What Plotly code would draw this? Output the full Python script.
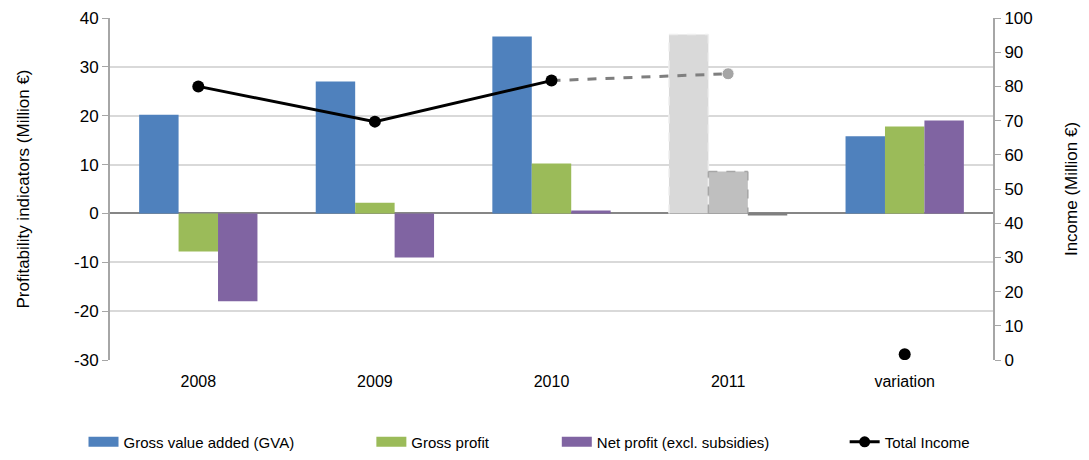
import plotly.graph_objects as go

categories = ["2008", "2009", "2010", "2011", "variation"]
gva = [20.2, 27.0, 36.2, 36.6, 15.8]
gross_profit = [-7.8, 2.2, 10.2, 8.6, 17.8]
net_profit = [-18.0, -9.0, 0.6, -0.4, 19.0]
income_solid = [80.0, 69.7, 81.7, None, None]
income_dashed = [None, None, 81.7, 83.7, None]
income_variation = [None, None, None, None, 1.7]

left_tickvals = [-30, -20, -10, 0, 10, 20, 30, 40]
left_ticktext = ["-30", "-20", "-10", "0", "10", "20", "30", "40"]
right_tickvals = [0, 10, 20, 30, 40, 50, 60, 70, 80, 90, 100]
right_ticktext = ["0", "10", "20", "30", "40", "50", "60", "70", "80", "90", "100"]

BLUE = "#4f81bd"
GREEN = "#9bbb59"
PURPLE = "#8064a2"
FONT = "Liberation Sans"

def colors(base, est):
    return [base] * 3 + [est] + [base]

fig = go.Figure()
fig.add_bar(x=categories, y=gva, name="Gross value added (GVA)",
            marker=dict(color=colors(BLUE, "#d9d9d9"), line=dict(width=0)), showlegend=False)
fig.add_bar(x=categories, y=gross_profit, name="Gross profit",
            marker=dict(color=colors(GREEN, "#bfbfbf"), line=dict(width=0)), showlegend=False)
fig.add_bar(x=categories, y=net_profit, name="Net profit (excl. subsidies)",
            marker=dict(color=colors(PURPLE, "#7f7f7f"), line=dict(width=0)), showlegend=False)

fig.add_scatter(x=categories, y=income_dashed, yaxis="y2", mode="lines+markers",
                line=dict(color="#7f7f7f", width=3, dash="dash"),
                marker=dict(size=[0, 0, 0, 12, 0], color="#7f7f7f"), showlegend=False)
fig.add_scatter(x=categories, y=income_solid, yaxis="y2", mode="lines+markers",
                line=dict(color="black", width=3), marker=dict(size=12, color="black"),
                showlegend=False, connectgaps=False)
fig.add_scatter(x=categories, y=income_variation, yaxis="y2", mode="markers",
                marker=dict(size=12, color="black"), showlegend=False)

# legend entries
leg_specs = [("Gross value added (GVA)", BLUE, "legend"),
             ("Gross profit", GREEN, "legend2"),
             ("Net profit (excl. subsidies)", PURPLE, "legend3")]
for name, col, lg in leg_specs:
    fig.add_scatter(x=[None], y=[None], mode="lines", name=name,
                    line=dict(color=col, width=13), legend=lg)
fig.add_scatter(x=[None], y=[None], mode="lines+markers", name="Total Income",
                line=dict(color="black", width=3), marker=dict(size=11, color="black"),
                legend="legend4", yaxis="y2")

# dashed outlines (sides and top) of the estimated 2011 bars
g = 0.33
w = (1 - g) / 3
idx = categories.index("2011")
for left, top, col in [(idx - 1.5 * w, gva[idx], "#efefef"),
                       (idx - 0.5 * w, gross_profit[idx], "#a6a6a6")]:
    right = left + w
    for x0, y0, x1, y1 in [(left, 0, left, top), (left, top, right, top), (right, top, right, 0)]:
        fig.add_shape(type="line", xref="x", yref="y", x0=x0, y0=y0, x1=x1, y1=y1,
                      line=dict(color=col, width=1.5, dash="dash"))

leg_common = dict(orientation="h", yanchor="middle", y=-0.24, xanchor="left",
                  font=dict(family=FONT, size=15, color="black"),
                  bgcolor="rgba(0,0,0,0)", itemwidth=30)
fig.update_layout(
    legend=dict(x=-0.03, **leg_common),
    legend2=dict(x=0.296, **leg_common),
    legend3=dict(x=0.506, **leg_common),
    legend4=dict(x=0.832, **leg_common),
)

fig.update_layout(
    width=1089, height=460,
    margin=dict(l=102, r=104, t=10, b=104),
    plot_bgcolor="white", paper_bgcolor="white",
    barmode="group", bargap=g, bargroupgap=0,
    font=dict(family=FONT, size=16, color="black"),
    xaxis=dict(type="category", showgrid=False, showline=False, ticks="",
               tickfont=dict(size=16), ticklabelstandoff=10, automargin=False),
    yaxis=dict(range=[-30, 40], tickvals=left_tickvals, ticktext=left_ticktext,
               showgrid=True, gridcolor="#d9d9d9", gridwidth=1.5,
               zeroline=True, zerolinecolor="#868686", zerolinewidth=2,
               showline=True, linecolor="#a6a6a6", linewidth=2,
               ticks="outside", ticklen=6, tickcolor="#a6a6a6", automargin=False,
               ticklabeloverflow="allow",
               title=dict(text="Profitability indicators (Million €)", font=dict(size=17), standoff=40),
               tickfont=dict(size=17)),
    yaxis2=dict(range=[0, 100], tickvals=right_tickvals, ticktext=right_ticktext,
                overlaying="y", side="right", showgrid=False,
                zeroline=False, showline=True, linecolor="#a6a6a6", linewidth=2,
                ticks="outside", ticklen=6, tickcolor="#a6a6a6", automargin=False,
                ticklabeloverflow="allow",
                title=dict(text="Income (Million €)", font=dict(size=17), standoff=33),
                tickfont=dict(size=17)),
)

fig.write_html("out.html", config={"displayModeBar": False})
